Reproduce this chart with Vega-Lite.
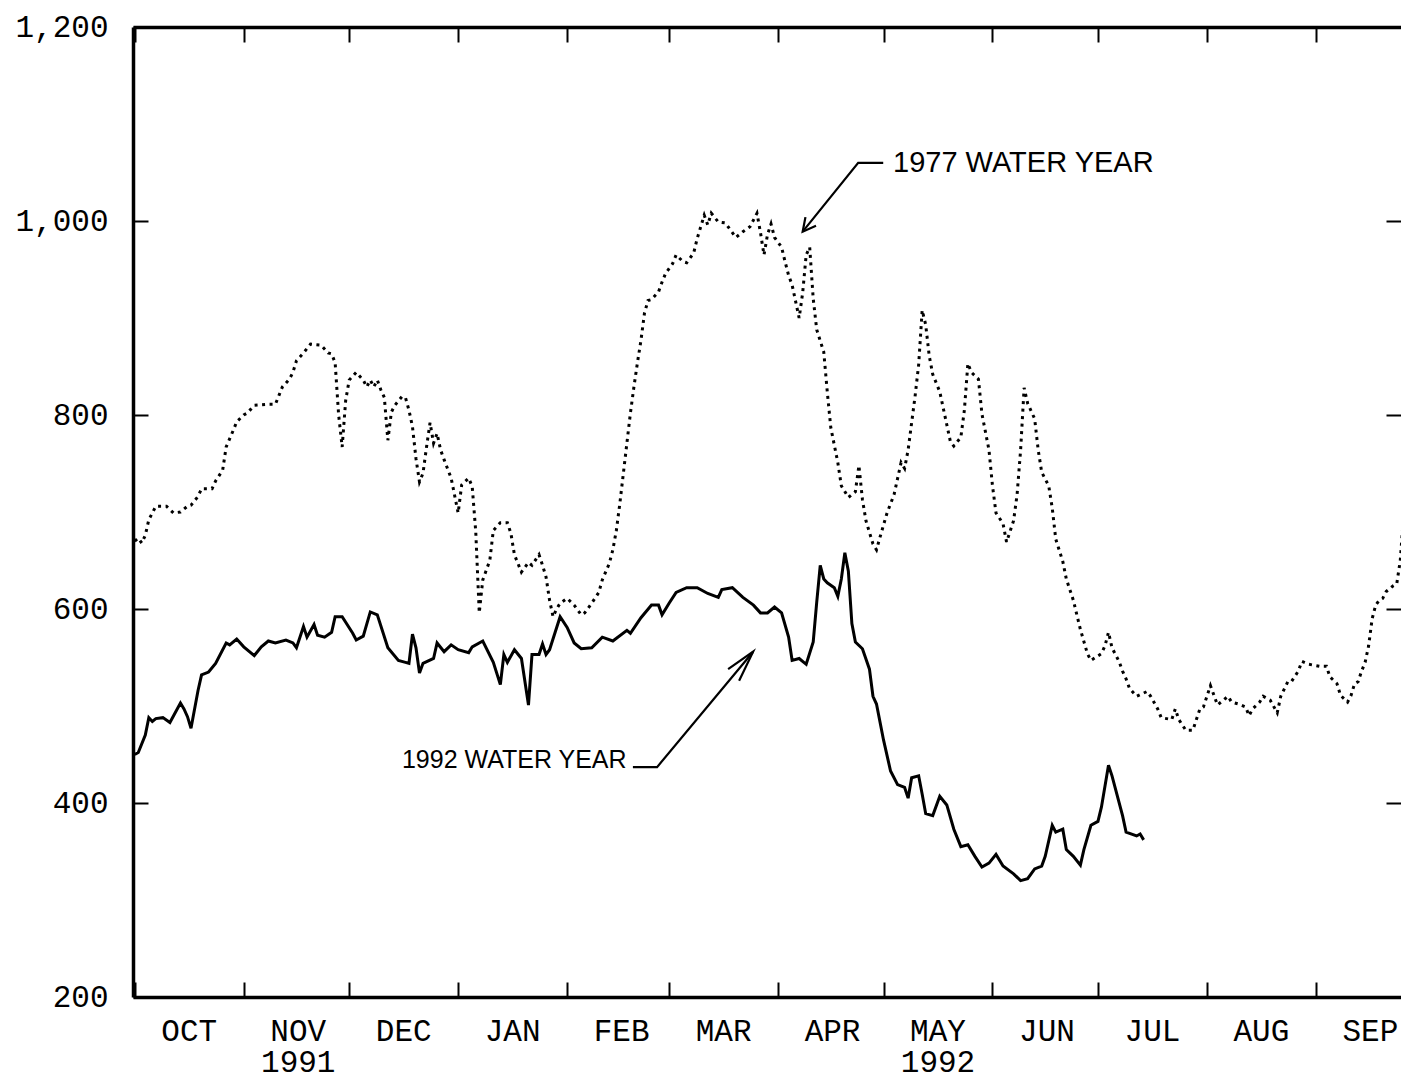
{
  "$schema": "https://vega.github.io/schema/vega-lite/v6.json",
  "autosize": {"type": "none"},
  "width": 1268,
  "height": 970,
  "padding": {"left": 133, "top": 27, "right": 0, "bottom": 82},
  "background": "white",
  "config": {
    "view": {"stroke": null},
    "axis": {"labelFont": "Liberation Mono", "labelFontSize": 31, "labelColor": "black", "domainColor": "black", "tickColor": "black", "grid": false, "title": null}
  },
  "datasets": {
    "wy1992": [
      {"date":"1991-10-01","value":450},{"date":"1991-10-02","value":452},{"date":"1991-10-04","value":470},{"date":"1991-10-05","value":488},{"date":"1991-10-06","value":484},{"date":"1991-10-07","value":487},{"date":"1991-10-09","value":488},{"date":"1991-10-11","value":483},{"date":"1991-10-14","value":503},{"date":"1991-10-15","value":497},{"date":"1991-10-16","value":489},{"date":"1991-10-17","value":477},{"date":"1991-10-19","value":516},{"date":"1991-10-20","value":532},{"date":"1991-10-22","value":535},{"date":"1991-10-24","value":544},{"date":"1991-10-27","value":565},{"date":"1991-10-28","value":563},{"date":"1991-10-30","value":569},
      {"date":"1991-11-01","value":561},{"date":"1991-11-04","value":552},{"date":"1991-11-06","value":561},{"date":"1991-11-08","value":567},{"date":"1991-11-10","value":565},{"date":"1991-11-13","value":568},{"date":"1991-11-15","value":565},{"date":"1991-11-16","value":560},{"date":"1991-11-18","value":582},{"date":"1991-11-19","value":571},{"date":"1991-11-21","value":584},{"date":"1991-11-22","value":573},{"date":"1991-11-24","value":571},{"date":"1991-11-26","value":576},{"date":"1991-11-27","value":592},{"date":"1991-11-29","value":592},
      {"date":"1991-12-02","value":575},{"date":"1991-12-03","value":568},{"date":"1991-12-05","value":572},{"date":"1991-12-07","value":597},{"date":"1991-12-09","value":594},{"date":"1991-12-12","value":560},{"date":"1991-12-15","value":547},{"date":"1991-12-17","value":545},{"date":"1991-12-18","value":544},{"date":"1991-12-19","value":574},{"date":"1991-12-20","value":560},{"date":"1991-12-21","value":534},{"date":"1991-12-22","value":544},{"date":"1991-12-25","value":549},{"date":"1991-12-26","value":565},{"date":"1991-12-28","value":556},{"date":"1991-12-30","value":563},
      {"date":"1992-01-01","value":558},{"date":"1992-01-04","value":555},{"date":"1992-01-05","value":561},{"date":"1992-01-08","value":567},{"date":"1992-01-11","value":545},{"date":"1992-01-13","value":522},{"date":"1992-01-14","value":553},{"date":"1992-01-15","value":545},{"date":"1992-01-17","value":558},{"date":"1992-01-19","value":549},{"date":"1992-01-21","value":501},{"date":"1992-01-22","value":553},{"date":"1992-01-24","value":553},{"date":"1992-01-25","value":564},{"date":"1992-01-26","value":553},{"date":"1992-01-27","value":558},{"date":"1992-01-30","value":592},
      {"date":"1992-02-01","value":581},{"date":"1992-02-03","value":565},{"date":"1992-02-05","value":559},{"date":"1992-02-08","value":560},{"date":"1992-02-11","value":571},{"date":"1992-02-14","value":567},{"date":"1992-02-18","value":578},{"date":"1992-02-19","value":575},{"date":"1992-02-22","value":591},{"date":"1992-02-25","value":604},{"date":"1992-02-27","value":604},{"date":"1992-02-28","value":594},
      {"date":"1992-03-01","value":606},{"date":"1992-03-03","value":617},{"date":"1992-03-06","value":622},{"date":"1992-03-09","value":622},{"date":"1992-03-12","value":616},{"date":"1992-03-15","value":612},{"date":"1992-03-16","value":620},{"date":"1992-03-19","value":622},{"date":"1992-03-22","value":612},{"date":"1992-03-25","value":604},{"date":"1992-03-27","value":596},{"date":"1992-03-29","value":596},{"date":"1992-03-31","value":602},
      {"date":"1992-04-02","value":596},{"date":"1992-04-04","value":571},{"date":"1992-04-05","value":547},{"date":"1992-04-07","value":549},{"date":"1992-04-09","value":543},{"date":"1992-04-11","value":566},{"date":"1992-04-12","value":607},{"date":"1992-04-13","value":645},{"date":"1992-04-14","value":631},{"date":"1992-04-15","value":627},{"date":"1992-04-17","value":622},{"date":"1992-04-18","value":613},{"date":"1992-04-19","value":631},{"date":"1992-04-20","value":658},{"date":"1992-04-21","value":639},{"date":"1992-04-22","value":585},{"date":"1992-04-23","value":566},{"date":"1992-04-25","value":559},{"date":"1992-04-27","value":538},{"date":"1992-04-28","value":510},{"date":"1992-04-29","value":502},
      {"date":"1992-05-01","value":465},{"date":"1992-05-03","value":433},{"date":"1992-05-05","value":419},{"date":"1992-05-07","value":416},{"date":"1992-05-08","value":405},{"date":"1992-05-09","value":426},{"date":"1992-05-11","value":428},{"date":"1992-05-12","value":409},{"date":"1992-05-13","value":389},{"date":"1992-05-15","value":387},{"date":"1992-05-17","value":407},{"date":"1992-05-19","value":398},{"date":"1992-05-21","value":373},{"date":"1992-05-23","value":355},{"date":"1992-05-25","value":357},{"date":"1992-05-27","value":345},{"date":"1992-05-29","value":334},{"date":"1992-05-31","value":338},
      {"date":"1992-06-02","value":347},{"date":"1992-06-04","value":335},{"date":"1992-06-07","value":327},{"date":"1992-06-09","value":320},{"date":"1992-06-11","value":322},{"date":"1992-06-13","value":332},{"date":"1992-06-15","value":335},{"date":"1992-06-16","value":345},{"date":"1992-06-18","value":377},{"date":"1992-06-19","value":370},{"date":"1992-06-21","value":373},{"date":"1992-06-22","value":352},{"date":"1992-06-24","value":345},{"date":"1992-06-26","value":336},{"date":"1992-06-27","value":352},{"date":"1992-06-29","value":377},
      {"date":"1992-07-01","value":381},{"date":"1992-07-02","value":396},{"date":"1992-07-04","value":439},{"date":"1992-07-05","value":428},{"date":"1992-07-08","value":387},{"date":"1992-07-09","value":370},{"date":"1992-07-12","value":366},{"date":"1992-07-13","value":368},{"date":"1992-07-14","value":362}
    ],
    "wy1977": [
      {"date":"1991-10-01","value":670},{"date":"1991-10-02","value":673},{"date":"1991-10-03","value":668},{"date":"1991-10-04","value":676},{"date":"1991-10-05","value":692},{"date":"1991-10-06","value":699},{"date":"1991-10-07","value":706},{"date":"1991-10-10","value":706},{"date":"1991-10-12","value":699},{"date":"1991-10-14","value":700},{"date":"1991-10-16","value":706},{"date":"1991-10-17","value":707},{"date":"1991-10-19","value":716},{"date":"1991-10-20","value":724},{"date":"1991-10-23","value":724},{"date":"1991-10-24","value":732},{"date":"1991-10-26","value":743},{"date":"1991-10-27","value":767},{"date":"1991-10-29","value":784},{"date":"1991-10-30","value":793},
      {"date":"1991-11-01","value":800},{"date":"1991-11-02","value":802},{"date":"1991-11-04","value":810},{"date":"1991-11-08","value":811},{"date":"1991-11-10","value":811},{"date":"1991-11-11","value":820},{"date":"1991-11-12","value":829},{"date":"1991-11-14","value":837},{"date":"1991-11-15","value":844},{"date":"1991-11-16","value":856},{"date":"1991-11-18","value":864},{"date":"1991-11-20","value":873},{"date":"1991-11-23","value":872},{"date":"1991-11-25","value":864},{"date":"1991-11-26","value":863},{"date":"1991-11-27","value":854},{"date":"1991-11-28","value":800},{"date":"1991-11-29","value":767},{"date":"1991-11-30","value":815},
      {"date":"1991-12-01","value":836},{"date":"1991-12-03","value":844},{"date":"1991-12-05","value":836},{"date":"1991-12-06","value":829},{"date":"1991-12-07","value":836},{"date":"1991-12-08","value":829},{"date":"1991-12-09","value":836},{"date":"1991-12-10","value":826},{"date":"1991-12-11","value":818},{"date":"1991-12-12","value":774},{"date":"1991-12-13","value":803},{"date":"1991-12-14","value":810},{"date":"1991-12-16","value":819},{"date":"1991-12-17","value":818},{"date":"1991-12-18","value":805},{"date":"1991-12-19","value":788},{"date":"1991-12-20","value":755},{"date":"1991-12-21","value":731},{"date":"1991-12-22","value":740},{"date":"1991-12-23","value":767},{"date":"1991-12-24","value":792},{"date":"1991-12-25","value":771},{"date":"1991-12-26","value":781},{"date":"1991-12-27","value":764},{"date":"1991-12-28","value":754},{"date":"1991-12-30","value":735},
      {"date":"1992-01-01","value":699},{"date":"1992-01-02","value":728},{"date":"1992-01-04","value":735},{"date":"1992-01-05","value":726},{"date":"1992-01-06","value":680},{"date":"1992-01-07","value":596},{"date":"1992-01-08","value":630},{"date":"1992-01-09","value":640},{"date":"1992-01-10","value":650},{"date":"1992-01-11","value":681},{"date":"1992-01-13","value":689},{"date":"1992-01-15","value":689},{"date":"1992-01-16","value":678},{"date":"1992-01-17","value":656},{"date":"1992-01-19","value":638},{"date":"1992-01-21","value":648},{"date":"1992-01-22","value":645},{"date":"1992-01-24","value":656},{"date":"1992-01-25","value":645},{"date":"1992-01-26","value":633},{"date":"1992-01-27","value":609},{"date":"1992-01-28","value":592},{"date":"1992-01-29","value":600},{"date":"1992-01-30","value":606},
      {"date":"1992-02-01","value":611},{"date":"1992-02-03","value":604},{"date":"1992-02-05","value":594},{"date":"1992-02-06","value":596},{"date":"1992-02-08","value":606},{"date":"1992-02-10","value":617},{"date":"1992-02-11","value":630},{"date":"1992-02-13","value":647},{"date":"1992-02-14","value":661},{"date":"1992-02-15","value":681},{"date":"1992-02-16","value":709},{"date":"1992-02-17","value":740},{"date":"1992-02-18","value":771},{"date":"1992-02-19","value":802},{"date":"1992-02-20","value":829},{"date":"1992-02-21","value":854},{"date":"1992-02-22","value":877},{"date":"1992-02-23","value":905},{"date":"1992-02-24","value":918},{"date":"1992-02-25","value":919},{"date":"1992-02-27","value":927},{"date":"1992-02-28","value":937},{"date":"1992-02-29","value":946},
      {"date":"1992-03-02","value":956},{"date":"1992-03-03","value":965},{"date":"1992-03-05","value":958},{"date":"1992-03-06","value":957},{"date":"1992-03-08","value":967},{"date":"1992-03-09","value":982},{"date":"1992-03-10","value":994},{"date":"1992-03-11","value":1006},{"date":"1992-03-12","value":996},{"date":"1992-03-13","value":1008},{"date":"1992-03-15","value":999},{"date":"1992-03-17","value":998},{"date":"1992-03-19","value":988},{"date":"1992-03-20","value":983},{"date":"1992-03-22","value":989},{"date":"1992-03-24","value":994},{"date":"1992-03-26","value":1008},{"date":"1992-03-27","value":988},{"date":"1992-03-28","value":965},{"date":"1992-03-29","value":986},{"date":"1992-03-30","value":997},{"date":"1992-03-31","value":983},
      {"date":"1992-04-02","value":973},{"date":"1992-04-03","value":958},{"date":"1992-04-04","value":944},{"date":"1992-04-05","value":934},{"date":"1992-04-07","value":900},{"date":"1992-04-08","value":926},{"date":"1992-04-09","value":965},{"date":"1992-04-10","value":973},{"date":"1992-04-11","value":920},{"date":"1992-04-12","value":888},{"date":"1992-04-14","value":865},{"date":"1992-04-15","value":824},{"date":"1992-04-16","value":787},{"date":"1992-04-18","value":751},{"date":"1992-04-19","value":727},{"date":"1992-04-21","value":715},{"date":"1992-04-23","value":721},{"date":"1992-04-24","value":748},{"date":"1992-04-25","value":713},{"date":"1992-04-26","value":691},{"date":"1992-04-28","value":667},{"date":"1992-04-29","value":661},{"date":"1992-04-30","value":674},
      {"date":"1992-05-02","value":699},{"date":"1992-05-04","value":718},{"date":"1992-05-06","value":751},{"date":"1992-05-07","value":745},{"date":"1992-05-08","value":764},{"date":"1992-05-09","value":792},{"date":"1992-05-10","value":820},{"date":"1992-05-11","value":852},{"date":"1992-05-12","value":908},{"date":"1992-05-13","value":893},{"date":"1992-05-14","value":861},{"date":"1992-05-15","value":842},{"date":"1992-05-17","value":824},{"date":"1992-05-18","value":807},{"date":"1992-05-20","value":773},{"date":"1992-05-21","value":768},{"date":"1992-05-23","value":777},{"date":"1992-05-24","value":805},{"date":"1992-05-25","value":853},{"date":"1992-05-26","value":844},{"date":"1992-05-28","value":837},{"date":"1992-05-29","value":801},{"date":"1992-05-31","value":764},
      {"date":"1992-06-01","value":727},{"date":"1992-06-02","value":699},{"date":"1992-06-04","value":688},{"date":"1992-06-05","value":669},{"date":"1992-06-07","value":691},{"date":"1992-06-08","value":718},{"date":"1992-06-09","value":764},{"date":"1992-06-10","value":828},{"date":"1992-06-11","value":812},{"date":"1992-06-13","value":796},{"date":"1992-06-14","value":764},{"date":"1992-06-15","value":741},{"date":"1992-06-17","value":727},{"date":"1992-06-18","value":704},{"date":"1992-06-19","value":672},{"date":"1992-06-21","value":649},{"date":"1992-06-22","value":631},{"date":"1992-06-24","value":609},{"date":"1992-06-25","value":594},{"date":"1992-06-26","value":579},{"date":"1992-06-28","value":554},{"date":"1992-06-29","value":547},
      {"date":"1992-07-02","value":554},{"date":"1992-07-03","value":562},{"date":"1992-07-04","value":576},{"date":"1992-07-05","value":560},{"date":"1992-07-07","value":546},{"date":"1992-07-08","value":536},{"date":"1992-07-09","value":528},{"date":"1992-07-10","value":518},{"date":"1992-07-12","value":510},{"date":"1992-07-15","value":515},{"date":"1992-07-16","value":510},{"date":"1992-07-18","value":497},{"date":"1992-07-19","value":488},{"date":"1992-07-22","value":486},{"date":"1992-07-23","value":497},{"date":"1992-07-24","value":486},{"date":"1992-07-26","value":475},{"date":"1992-07-28","value":475},{"date":"1992-07-29","value":486},{"date":"1992-07-30","value":497},{"date":"1992-07-31","value":499},
      {"date":"1992-08-01","value":510},{"date":"1992-08-02","value":521},{"date":"1992-08-03","value":511},{"date":"1992-08-04","value":501},{"date":"1992-08-05","value":504},{"date":"1992-08-07","value":510},{"date":"1992-08-08","value":504},{"date":"1992-08-10","value":502},{"date":"1992-08-12","value":499},{"date":"1992-08-13","value":490},{"date":"1992-08-14","value":497},{"date":"1992-08-16","value":504},{"date":"1992-08-17","value":510},{"date":"1992-08-19","value":506},{"date":"1992-08-21","value":493},{"date":"1992-08-22","value":510},{"date":"1992-08-24","value":525},{"date":"1992-08-25","value":525},{"date":"1992-08-27","value":536},{"date":"1992-08-28","value":546},{"date":"1992-08-30","value":543},
      {"date":"1992-09-02","value":541},{"date":"1992-09-04","value":541},{"date":"1992-09-05","value":530},{"date":"1992-09-07","value":523},{"date":"1992-09-08","value":511},{"date":"1992-09-10","value":504},{"date":"1992-09-11","value":511},{"date":"1992-09-12","value":523},{"date":"1992-09-13","value":525},{"date":"1992-09-14","value":536},{"date":"1992-09-15","value":545},{"date":"1992-09-16","value":562},{"date":"1992-09-17","value":590},{"date":"1992-09-18","value":604},{"date":"1992-09-19","value":609},{"date":"1992-09-20","value":611},{"date":"1992-09-21","value":618},{"date":"1992-09-23","value":624},{"date":"1992-09-24","value":626},{"date":"1992-09-25","value":650},{"date":"1992-09-26","value":700}
    ],
    "notes": [
      {"label":"1977 WATER YEAR","date":"1992-05-03T17:00:00Z","value":1060},
      {"label":"1992 WATER YEAR","date":"1991-12-16T00:00:00Z","value":444}
    ],
    "arrows": [
      {"part":"a77","order":1,"date":"1992-04-30T22:00:00Z","value":1060},
      {"part":"a77","order":2,"date":"1992-04-23T19:00:00Z","value":1060},
      {"part":"a77","order":3,"date":"1992-04-08T00:00:00Z","value":989},
      {"part":"h77","order":1,"date":"1992-04-08T19:00:00Z","value":1004},
      {"part":"h77","order":2,"date":"1992-04-08T00:00:00Z","value":989},
      {"part":"h77","order":3,"date":"1992-04-11T19:00:00Z","value":995},
      {"part":"a92","order":1,"date":"1992-02-19T17:00:00Z","value":437},
      {"part":"a92","order":2,"date":"1992-02-26T14:00:00Z","value":437},
      {"part":"a92","order":3,"date":"1992-03-24T22:00:00Z","value":556},
      {"part":"h92","order":1,"date":"1992-03-17T19:00:00Z","value":538},
      {"part":"h92","order":2,"date":"1992-03-24T22:00:00Z","value":556},
      {"part":"h92","order":3,"date":"1992-03-20T22:00:00Z","value":526}
    ]
  },
  "layer": [
    {
      "data": {"name": "wy1992"},
      "mark": {"type": "line", "clip": true, "color": "black", "strokeWidth": 3},
      "encoding": {
        "x": {"field": "date", "type": "temporal",
          "scale": {"type": "utc", "domain": [{"year":1991,"month":9,"date":30,"hours":12,"utc":true},{"year":1992,"month":9,"date":25,"hours":5,"utc":true}]},
          "axis": {"orient": "bottom",
            "values": [{"year":1991,"month":10,"date":1,"utc":true},{"year":1991,"month":11,"date":1,"utc":true},{"year":1991,"month":12,"date":1,"utc":true},{"year":1992,"month":1,"date":1,"utc":true},{"year":1992,"month":2,"date":1,"utc":true},{"year":1992,"month":3,"date":1,"utc":true},{"year":1992,"month":4,"date":1,"utc":true},{"year":1992,"month":5,"date":1,"utc":true},{"year":1992,"month":6,"date":1,"utc":true},{"year":1992,"month":7,"date":1,"utc":true},{"year":1992,"month":8,"date":1,"utc":true},{"year":1992,"month":9,"date":1,"utc":true}],
            "tickSize": -15, "tickWidth": 2, "domainWidth": 3.5,
            "labelExpr": "utcmonth(datum.value) == 10 ? ['NOV', '1991'] : utcmonth(datum.value) == 4 ? ['MAY', '1992'] : ['JAN','FEB','MAR','APR','MAY','JUN','JUL','AUG','SEP','OCT','NOV','DEC'][utcmonth(datum.value)]",
            "labelOffset": 54, "labelAlign": "center", "labelBaseline": "top", "labelPadding": 34, "labelLineHeight": 31,
            "labelOverlap": false, "labelFlush": false, "labelBound": false}
        },
        "y": {"field": "value", "type": "quantitative",
          "scale": {"domain": [200, 1200], "nice": false, "zero": false},
          "axis": {"orient": "left", "values": [200, 400, 600, 800, 1000, 1200], "format": ",d",
            "tickSize": -15, "tickWidth": 2, "domainWidth": 3.5, "labelPadding": 40, "labelOverlap": false, "labelFlush": false, "labelBound": false}
        }
      }
    },
    {
      "data": {"name": "wy1977"},
      "mark": {"type": "line", "clip": true, "color": "black", "strokeWidth": 3, "strokeDash": [3, 4.5]},
      "encoding": {
        "x": {"field": "date", "type": "temporal",
          "scale": {"type": "utc", "domain": [{"year":1991,"month":9,"date":30,"hours":12,"utc":true},{"year":1992,"month":9,"date":25,"hours":5,"utc":true}]},
          "axis": null},
        "y": {"field": "value", "type": "quantitative", "scale": {"domain": [200, 1200], "nice": false, "zero": false}, "axis": null}
      }
    },
    {
      "data": {"name": "notes"},
      "transform": [{"filter": "datum.label == '1977 WATER YEAR'"}],
      "mark": {"type": "text", "align": "left", "baseline": "middle", "font": "Liberation Sans", "fontSize": 29, "color": "black"},
      "encoding": {
        "x": {"field": "date", "type": "temporal",
          "scale": {"type": "utc", "domain": [{"year":1991,"month":9,"date":30,"hours":12,"utc":true},{"year":1992,"month":9,"date":25,"hours":5,"utc":true}]},
          "axis": {"orient": "top",
            "values": [{"year":1991,"month":10,"date":1,"utc":true},{"year":1991,"month":11,"date":1,"utc":true},{"year":1991,"month":12,"date":1,"utc":true},{"year":1992,"month":1,"date":1,"utc":true},{"year":1992,"month":2,"date":1,"utc":true},{"year":1992,"month":3,"date":1,"utc":true},{"year":1992,"month":4,"date":1,"utc":true},{"year":1992,"month":5,"date":1,"utc":true},{"year":1992,"month":6,"date":1,"utc":true},{"year":1992,"month":7,"date":1,"utc":true},{"year":1992,"month":8,"date":1,"utc":true},{"year":1992,"month":9,"date":1,"utc":true}],
            "tickSize": -15, "tickWidth": 2, "domainWidth": 3.5, "labels": false}
        },
        "y": {"field": "value", "type": "quantitative",
          "scale": {"domain": [200, 1200], "nice": false, "zero": false},
          "axis": {"orient": "right", "values": [400, 600, 800, 1000], "tickSize": -15, "tickWidth": 2, "domain": false, "labels": false}
        },
        "text": {"field": "label"}
      }
    },
    {
      "data": {"name": "notes"},
      "transform": [{"filter": "datum.label == '1992 WATER YEAR'"}],
      "mark": {"type": "text", "align": "left", "baseline": "middle", "font": "Liberation Sans", "fontSize": 25, "color": "black"},
      "encoding": {
        "x": {"field": "date", "type": "temporal",
          "scale": {"type": "utc", "domain": [{"year":1991,"month":9,"date":30,"hours":12,"utc":true},{"year":1992,"month":9,"date":25,"hours":5,"utc":true}]},
          "axis": null},
        "y": {"field": "value", "type": "quantitative", "scale": {"domain": [200, 1200], "nice": false, "zero": false}, "axis": null},
        "text": {"field": "label"}
      }
    },
    {
      "data": {"name": "arrows"},
      "mark": {"type": "line", "color": "black", "strokeWidth": 2.2},
      "encoding": {
        "x": {"field": "date", "type": "temporal",
          "scale": {"type": "utc", "domain": [{"year":1991,"month":9,"date":30,"hours":12,"utc":true},{"year":1992,"month":9,"date":25,"hours":5,"utc":true}]},
          "axis": null},
        "y": {"field": "value", "type": "quantitative", "scale": {"domain": [200, 1200], "nice": false, "zero": false}, "axis": null},
        "detail": {"field": "part"},
        "order": {"field": "order", "type": "quantitative"}
      }
    }
  ],
  "resolve": {"axis": {"x": "independent", "y": "independent"}}
}
